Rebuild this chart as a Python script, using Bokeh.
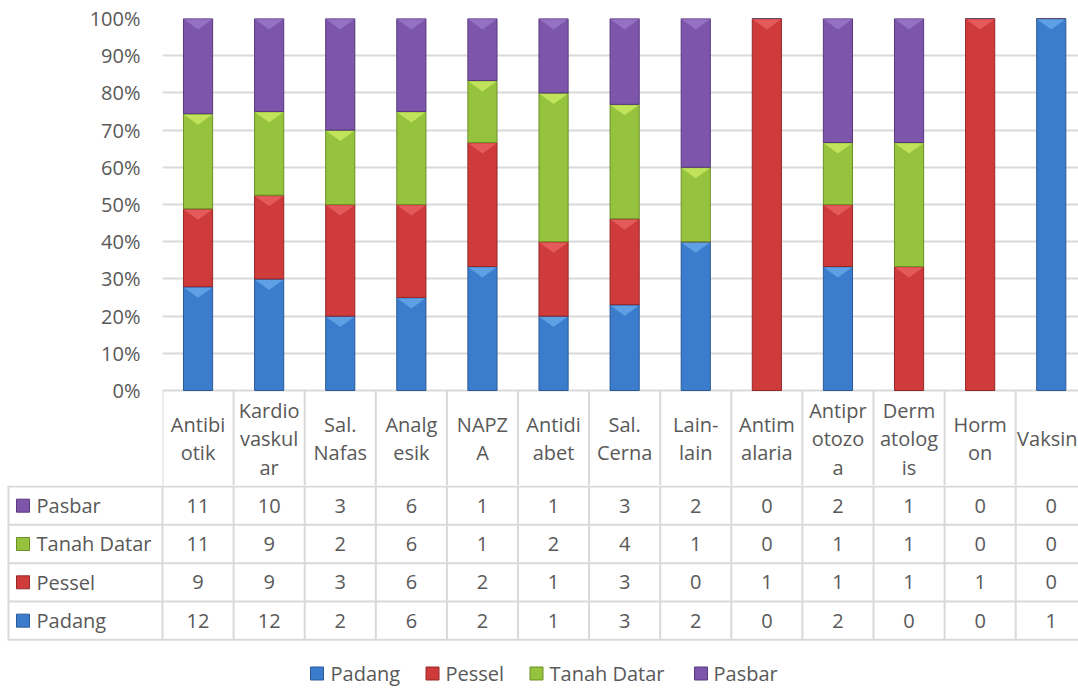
import numpy as np
from bokeh.plotting import figure
from bokeh.layouts import column
from bokeh.models import Range1d, FixedTicker, NumeralTickFormatter, ColumnDataSource
from bokeh.core.properties import value
from bokeh.embed import file_html
from bokeh.resources import INLINE

# ---------------- data ----------------
categories = ["Antibi\notik", "Kardio\nvaskul\nar", "Sal.\nNafas", "Analg\nesik", "NAPZ\nA",
              "Antidi\nabet", "Sal.\nCerna", "Lain-\nlain", "Antim\nalaria", "Antipr\notozo\na",
              "Derm\natolog\nis", "Horm\non", "Vaksin"]
series = ["Padang", "Pessel", "Tanah Datar", "Pasbar"]
padang = [12, 12, 2, 6, 2, 1, 3, 2, 0, 2, 0, 0, 1]
pessel = [9, 9, 3, 6, 2, 1, 3, 0, 1, 1, 1, 1, 0]
tanah_datar = [11, 9, 2, 6, 1, 2, 4, 1, 0, 1, 1, 0, 0]
pasbar = [11, 10, 3, 6, 1, 1, 3, 2, 0, 2, 1, 0, 0]
y_ticks = [0, 0.1, 0.2, 0.3, 0.4, 0.5, 0.6, 0.7, 0.8, 0.9, 1.0]

colors = ["#3b7dcc", "#cf3b3b", "#96c33e", "#7d56ab"]
light = ["#72b4ef", "#f06b6b", "#d9f36c", "#a17fd0"]
dark = ["#2a5a96", "#962727", "#6c8f26", "#58387c"]

FONT = "Open Sans"
TXT = "#595959"
GRID = "#d9d9d9"

# ---------------- geometry ----------------
W = 1078
COL = 71.1          # px per category column
LEFT = 162          # screen x of first column edge
ZERO = 390          # screen y of the 0% line
UNIT = 372.0        # px per 100%
H1 = 485            # chart + header row
n = len(categories)
values = [padang, pessel, tanah_datar, pasbar]
totals = np.array(padang) + np.array(pessel) + np.array(tanah_datar) + np.array(pasbar)
fracs = [np.array(v) / totals for v in values]

def px2x(xs):
    return (xs - LEFT) / COL

def py2y(ys):
    return (ZERO - np.asarray(ys, dtype=float)) / UNIT

# ---------------- chart figure (bars + header row) ----------------
p = figure(width=W, height=H1, output_backend="svg", toolbar_location=None,
           x_range=Range1d(0, px2x(W)), y_range=Range1d(float(py2y(H1)), 1.0),
           x_axis_type=None, min_border_left=LEFT, min_border_right=0,
           min_border_top=18, min_border_bottom=0)
p.frame_align = False
p.outline_line_color = None
p.xgrid.visible = False
p.ygrid.grid_line_color = GRID
p.ygrid.grid_line_width = 2
p.yaxis.ticker = FixedTicker(ticks=y_ticks)
p.yaxis.formatter = NumeralTickFormatter(format="0%")
p.yaxis.axis_line_color = None
p.yaxis.major_tick_line_color = None
p.yaxis.minor_tick_line_color = None
p.yaxis.major_tick_out = 0
p.yaxis.major_label_standoff = 22
p.yaxis.major_label_text_font = FONT
p.yaxis.major_label_text_font_size = "20px"
p.yaxis.major_label_text_color = TXT

xc = np.arange(n) + 0.5
BW = 0.41
src = ColumnDataSource(dict(x=xc, **{s: f for s, f in zip(series, fracs)}))
p.vbar_stack(series, x="x", width=BW, source=src, fill_color=colors,
             line_color=dark, line_width=1)

# bevel highlights on each segment top
bottom = np.zeros(n)
for k, f in enumerate(fracs):
    top = bottom + f
    xs, ys = [], []
    for i in range(n):
        h = top[i] - bottom[i]
        if h <= 0:
            continue
        th = min(11 / UNIT, h)
        xs.append([xc[i] - BW / 2 + 0.01, xc[i] + BW / 2 - 0.01, xc[i]])
        ys.append([top[i] - 1 / UNIT, top[i] - 1 / UNIT, top[i] - th])
    p.patches(xs, ys, fill_color=light[k], fill_alpha=0.65, line_color=None)
    bottom = top

# header row of the data table
edges = np.arange(n + 1)
p.segment(x0=edges, x1=edges, y0=0, y1=float(py2y(H1)), line_color=GRID, line_width=2)
hx, hy, ht, ha = [], [], [], []
for i, c in enumerate(categories):
    lines = c.split("\n")
    m = len(lines)
    last = (i == n - 1 and m == 1)
    for j, ln in enumerate(lines):
        hx.append(px2x(W - 1) if last else xc[i])
        ha.append("right" if last else "center")
        hy.append(float(py2y(438 + (j - (m - 1) / 2) * 28.5)))
        ht.append(ln)
p.text(x=hx, y=hy, text=ht, text_align=ha, text_font=value(FONT), text_font_size="20px",
       text_color=TXT, text_baseline="middle")

# ---------------- table figure (series rows + legend) ----------------
H2 = 688 - H1
t = figure(width=W, height=H2, output_backend="svg", toolbar_location=None,
           x_range=Range1d(px2x(0), px2x(W)), y_range=Range1d(688, H1),
           x_axis_type=None, y_axis_type=None, min_border=0)
t.frame_align = False
t.outline_line_color = None
t.xgrid.visible = False
t.ygrid.visible = False

HDR_BOTTOM = 486
ROW_H = 38.33
row_lines = [HDR_BOTTOM + k * ROW_H for k in range(5)]
t.segment(x0=edges, x1=edges, y0=H1, y1=row_lines[-1], line_color=GRID, line_width=2)
t.segment(x0=[px2x(8)], x1=[px2x(8)], y0=[HDR_BOTTOM], y1=[row_lines[-1]], line_color=GRID, line_width=2)
t.segment(x0=[px2x(7)] * 5, x1=[n] * 5, y0=row_lines, y1=row_lines, line_color=GRID, line_width=2)

# rows (top to bottom: Pasbar, Tanah Datar, Pessel, Padang)
for r, k in enumerate([3, 2, 1, 0]):
    yc = HDR_BOTTOM + ROW_H * (r + 0.5)
    t.scatter(x=[px2x(22.5)], y=[yc], marker="square", size=13, fill_color=colors[k],
              line_color=dark[k], line_width=1)
    t.text(x=[px2x(36)], y=[yc], text=[series[k]], text_font=value(FONT), text_font_size="20px",
           text_color=TXT, text_align="left", text_baseline="middle")
    t.text(x=xc, y=[yc] * n, text=[str(v) for v in values[k]], text_font=value(FONT),
           text_font_size="20px", text_color=TXT, text_align="center", text_baseline="middle")

# legend
leg_sq = [316.5, 432, 536, 700.5]
leg_tx = [330, 445, 549, 713]
LY = 673
for k in range(4):
    t.scatter(x=[px2x(leg_sq[k])], y=[LY], marker="square", size=13, fill_color=colors[k],
              line_color=dark[k], line_width=1)
    t.text(x=[px2x(leg_tx[k])], y=[LY], text=[series[k]], text_font=value(FONT),
           text_font_size="20px", text_color=TXT, text_align="left", text_baseline="middle")

layout = column(p, t, spacing=0)
open("out.html", "w").write(file_html(layout, INLINE))
